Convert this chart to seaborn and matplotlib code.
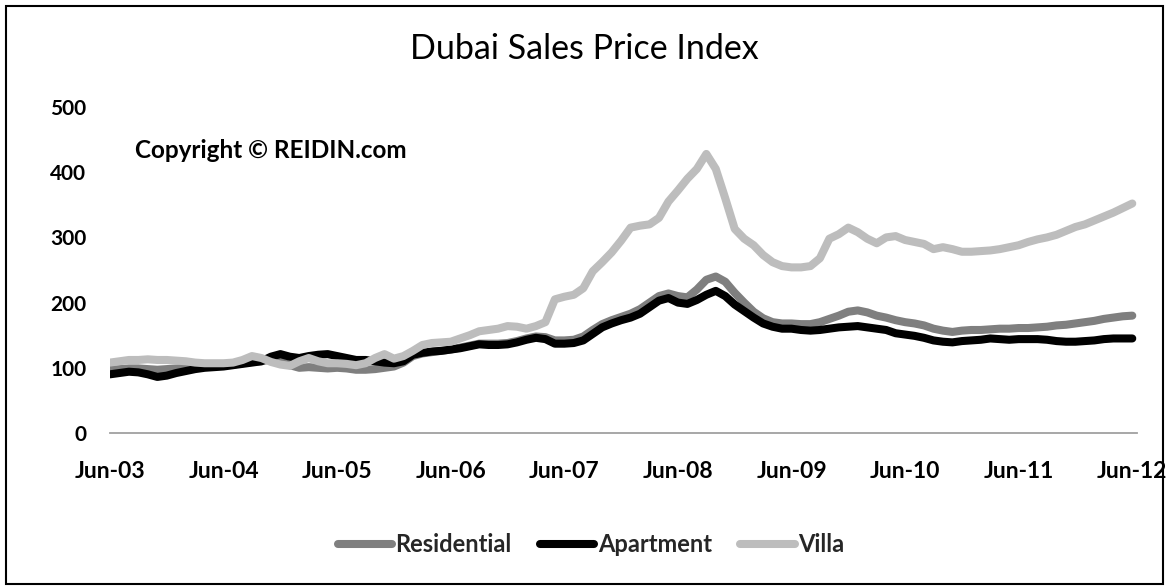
import numpy as np
import pandas as pd
import matplotlib
matplotlib.use("Agg")
import matplotlib.pyplot as plt
from matplotlib.lines import Line2D
from matplotlib.patches import Rectangle
import seaborn as sns

# Monthly index values, Jun-2003 .. Jun-2012
residential = [
    97, 98, 99, 99, 98, 97, 98, 99, 100, 101, 102, 103,
    104, 105, 107, 109, 110, 113, 110, 104, 100, 101, 100, 99,
    100, 99, 97, 97, 98, 100, 102, 108, 118, 122, 124, 126,
    128, 131, 134, 137, 137, 137, 138, 141, 145, 148, 147, 142,
    142, 143, 148, 158, 167, 173, 178, 183, 190, 200, 210, 214,
    210, 208, 220, 235, 240, 232, 215, 200, 186, 176, 170, 168,
    168, 167, 167, 170, 175, 180, 186, 188, 185, 180, 177, 173,
    170, 168, 165, 160, 157, 155, 157, 158, 158, 159, 160, 160,
    161, 161, 162, 163, 165, 166, 168, 170, 172, 175, 177, 179,
    180,
]
apartment = [
    90, 92, 94, 93, 90, 86, 88, 92, 95, 98, 100, 101,
    102, 104, 106, 108, 110, 117, 121, 117, 115, 118, 120, 121,
    118, 115, 112, 112, 110, 108, 107, 110, 120, 123, 125, 126,
    128, 130, 133, 136, 135, 135, 136, 139, 143, 146, 144, 137,
    137, 138, 142, 152, 162, 168, 173, 177, 183, 193, 203, 207,
    200, 198, 204, 212, 218, 210, 197, 187, 177, 168, 163, 160,
    160, 158, 157, 158, 160, 162, 163, 164, 162, 160, 158, 153,
    151, 149, 146, 142, 140, 139, 141, 142, 143, 145, 144, 143,
    144, 144, 144, 143, 141, 140, 140, 141, 142, 144, 145, 145,
    145,
]
villa = [
    108, 110, 112, 112, 113, 112, 112, 111, 110, 108, 107, 107,
    107, 108, 112, 118, 115, 109, 105, 103, 110, 115, 110, 107,
    107, 106, 104, 107, 115, 121, 114, 118, 126, 135, 138, 139,
    140, 145, 150, 156, 158, 160, 164, 163, 160, 164, 170, 205,
    209, 212, 222, 248, 262, 277, 295, 315, 318, 320, 330, 355,
    372, 390, 405, 428, 405, 360, 313, 298, 288, 273, 262, 256,
    254, 254, 256, 268, 298, 305, 315, 308, 298, 291, 300, 302,
    296, 293, 290, 282, 285, 282, 278, 278, 279, 280, 282, 285,
    288, 293, 297, 300, 304, 310, 316, 320, 326, 332, 338, 345,
    352,
]
tick_labels = ["Jun-03", "Jun-04", "Jun-05", "Jun-06", "Jun-07",
               "Jun-08", "Jun-09", "Jun-10", "Jun-11", "Jun-12"]
series_names = ["Residential", "Apartment", "Villa"]
colors = ["#7f7f7f", "#000000", "#bdbdbd"]

months = np.arange(len(villa))
df = pd.DataFrame({
    "month": np.tile(months, 3),
    "index": residential + apartment + villa,
    "series": np.repeat(series_names, len(months)),
})

sns.set_theme(style="white")
plt.rcParams["font.family"] = ["Lato", "DejaVu Sans"]

W, H = 1169, 586
fig = plt.figure(figsize=(W / 100, H / 100), dpi=100)
ax = fig.add_axes([110 / W, 1 - 433 / H, 1027 / W, 326 / H])

palette = dict(zip(series_names, colors))
sns.lineplot(data=df, x="month", y="index", hue="series",
             hue_order=series_names, palette=palette, linewidth=5.8,
             legend=False, ax=ax, solid_capstyle="round",
             solid_joinstyle="round")

ax.set_xlim(0, 108.5)
ax.set_ylim(0, 500)
ax.set_xticks(np.arange(0, 109, 12))
ax.set_xticklabels(tick_labels)
ax.set_yticks(np.arange(0, 501, 100))
ax.set_xlabel("")
ax.set_ylabel("")
for side in ["top", "right", "left"]:
    ax.spines[side].set_visible(False)
ax.spines["bottom"].set_color("#a0a0a0")
ax.spines["bottom"].set_linewidth(1.3)
ax.tick_params(axis="both", length=0, colors="black")
ax.tick_params(axis="x", pad=20, labelsize=16.5)
ax.tick_params(axis="y", pad=17, labelsize=15)
for lbl in ax.get_xticklabels() + ax.get_yticklabels():
    lbl.set_fontweight("bold")

fig.text(0.5, 1 - 59 / H, "Dubai Sales Price Index", ha="center",
         va="baseline", fontsize=24.5, color="black")
fig.text(135 / W, 1 - 150 / H, "Copyright \u00a9 REIDIN.com",
         ha="left", va="center", fontsize=17.5, fontweight="bold",
         color="black")

handles = [Line2D([0], [0], color=c, linewidth=5.8, solid_capstyle="round")
           for c in colors]
leg = fig.legend(handles, series_names, loc="center",
                 bbox_to_anchor=(591 / W, 1 - 545 / H), ncol=3,
                 frameon=False, handlelength=2.3, handletextpad=0.15,
                 columnspacing=1.2, fontsize=17)
for t in leg.get_texts():
    t.set_fontweight("bold")

fig.add_artist(Rectangle((6 / W, 0.004), 1157 / W, 1 - 6 / H - 0.004,
                         transform=fig.transFigure, fill=False,
                         edgecolor="black", linewidth=1.5))

fig.savefig("out.png", dpi=100)
